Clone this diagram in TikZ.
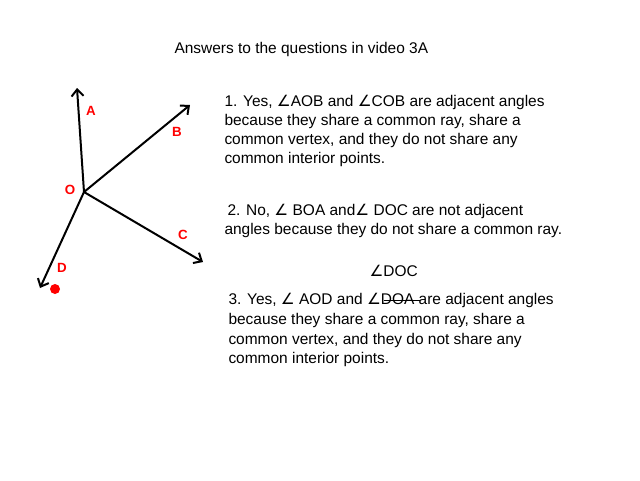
\documentclass[tikz,border=0pt]{standalone}
\usepackage{fontspec}
\usetikzlibrary{arrows.meta}
\setmainfont{Liberation Sans}
\newfontfamily\dejavu{DejaVu Sans}
\newcommand{\ang}{{\dejavu ∠}}
\tikzset{every picture/.style={line width=0.75pt}}
\begin{document}
\begin{tikzpicture}[x=0.75pt,y=0.75pt,yscale=-1,xscale=1]
    \useasboundingbox (0,0) rectangle (640,480);
    \tikzset{ray/.style={line width=1.5pt,-{Straight Barb[length=5pt,width=9pt]}},
      lbl/.style={text=red,font=\bfseries,inner sep=0.75pt},
      txt/.style={anchor=west,inner sep=0.75pt,font=\fontsize{11.6}{13}\selectfont}}

    %Rays
    \coordinate (O) at (84,192);
    \coordinate (A) at (77,88);
    \coordinate (B) at (190,105);
    \coordinate (C) at (203,262);
    \coordinate (D) at (40,288);
    \draw [ray] (O) -- (A);
    \draw [ray] (O) -- (B);
    \draw [ray] (O) -- (C);
    \draw [ray] (O) -- (D);
    \fill [red] (55,289) circle (5);

    % Labels
    \node [lbl] (la) at (91,111) {A};
    \node [lbl] (lb) at (177,132) {B};
    \node [lbl] (lc) at (183,235) {C};
    \node [lbl] (ld) at (62,268) {D};
    \node [lbl] (lo) at (70,190) {O};

    % Text Nodes
    \node [txt] (title) at (173,49) {Answers to the questions in video 3A};
    \node [txt] (q1a) at (223,102) {1. Yes, \ang AOB and \ang COB are adjacent angles};
    \node [txt] (q1b) at (223,121) {because they share a common ray, share a};
    \node [txt] (q1c) at (223,140) {common vertex, and they do not share any};
    \node [txt] (q1d) at (223,159) {common interior points.};
    \node [txt] (q2a) at (226,211) {2. No, \ang{} BOA and\ang{} DOC are not adjacent};
    \node [txt] (q2b) at (223,230) {angles because they do not share a common ray.};
    \node [txt] (fix) at (368,271) {\ang DOC};
    \node [txt] (q3a) at (227,300) {3. Yes, \ang{} AOD and \ang DOA are adjacent angles};
    \node [txt] (q3b) at (227,320) {because they share a common ray, share a};
    \node [txt] (q3c) at (227,340) {common vertex, and they do not share any};
    \node [txt] (q3d) at (227,359) {common interior points.};
    \draw (384,300) -- (420,300);
\end{tikzpicture}
\end{document}
